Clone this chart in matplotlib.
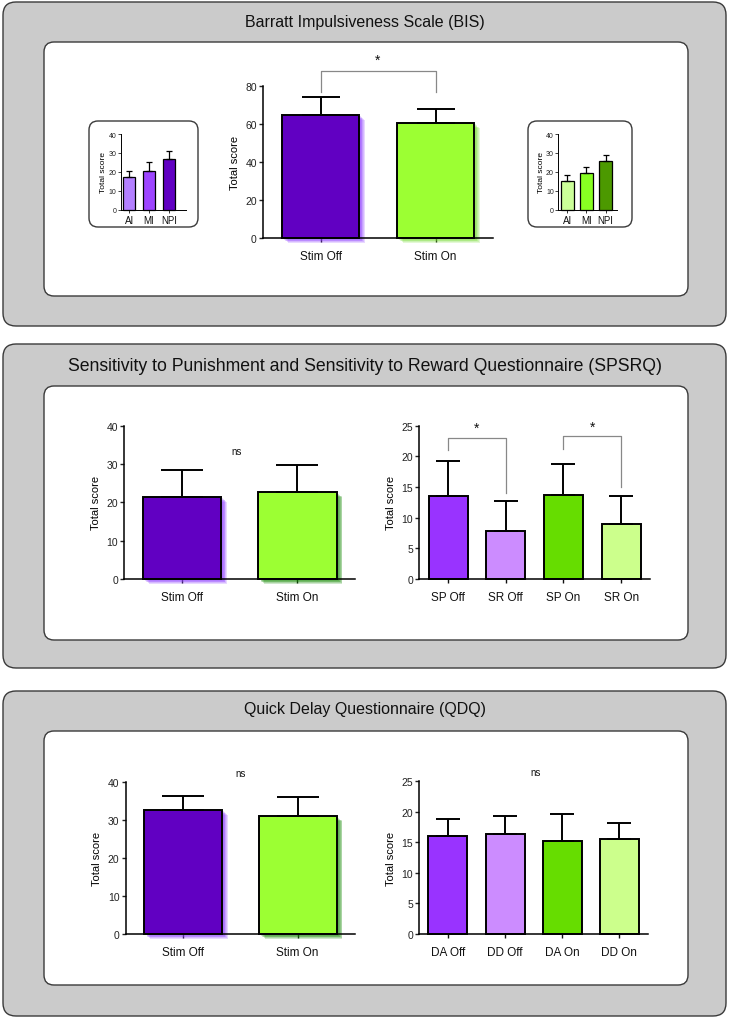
import matplotlib
matplotlib.use("Agg")
import matplotlib.pyplot as plt
import matplotlib.patheffects as pe
from matplotlib.patches import FancyBboxPatch

plt.rcParams['font.family'] = ['Liberation Sans', 'DejaVu Sans']

# ---- data ----
stim_labels = ["Stim Off", "Stim On"]
bis_means = [64.7, 60.4]
bis_errs = [9.5, 7.3]

bis_sub_labels = ["AI", "MI", "NPI"]
bis_off_means = [17.1, 20.6, 26.8]
bis_off_errs = [3.2, 4.8, 4.1]
bis_on_means = [15.4, 19.3, 25.6]
bis_on_errs = [3.0, 3.5, 3.5]

spsrq_means = [21.4, 22.6]
spsrq_errs = [7.1, 7.1]
spsrq_sub_labels = ["SP Off", "SR Off", "SP On", "SR On"]
spsrq_sub_means = [13.5, 7.9, 13.7, 9.0]
spsrq_sub_errs = [5.7, 4.9, 5.1, 4.5]

qdq_means = [32.6, 30.9]
qdq_errs = [3.6, 5.0]
qdq_sub_labels = ["DA Off", "DD Off", "DA On", "DD On"]
qdq_sub_means = [16.0, 16.4, 15.3, 15.5]
qdq_sub_errs = [2.8, 2.9, 4.3, 2.6]

titles = ["Barratt Impulsiveness Scale (BIS)",
          "Sensitivity to Punishment and Sensitivity to Reward Questionnaire (SPSRQ)",
          "Quick Delay Questionnaire (QDQ)"]

off_col, on_col = "#6100c2", "#9cff33"
purple4 = ["#9933ff", "#cc8cff", "#66dd00", "#ccff8c"]

W, H = 730, 1020
fig = plt.figure(figsize=(7.3, 10.2), dpi=100)

bg = fig.add_axes([0, 0, 1, 1])
bg.set_xlim(0, W)
bg.set_ylim(H, 0)
bg.axis('off')


def rbox(x0, y0, x1, y1, fc, r):
    bg.add_patch(FancyBboxPatch((x0, y0), x1 - x0, y1 - y0,
                                boxstyle=f"round,pad=0,rounding_size={r}",
                                fc=fc, ec="#3a3a3a", lw=1.0))


outer = [(3, 3, 726, 327), (3, 345, 726, 669), (3, 692, 726, 1017)]
inner = [(44, 43, 688, 297), (44, 387, 688, 641), (44, 732, 688, 986)]
title_y = [22, 367, 710]
title_size = [11.5, 12.7, 11.5]
for o, i, t, ty, ts in zip(outer, inner, titles, title_y, title_size):
    rbox(*o, "#cbcbcb", 13)
    rbox(*i, "white", 10)
    bg.text(365, ty, t, ha="center", va="center", fontsize=ts, color="#111")
rbox(89, 122, 198, 228, "white", 9)
rbox(528, 122, 632, 228, "white", 9)


def px_axes(x0, y0, x1, y1):
    return fig.add_axes([x0 / W, 1 - y1 / H, (x1 - x0) / W, (y1 - y0) / H])


def glow(color):
    offs = [(0.6, -0.4), (1.2, -0.9), (1.8, -1.4), (2.4, -1.9), (3.0, -2.4), (3.6, -2.9), (4.2, -3.4)]
    return [pe.SimplePatchShadow(offset=o, shadow_rgbFace=color, alpha=0.2) for o in offs] + [pe.Normal()]


def bar_panel(ax, labels, means, errs, colors, ymax, yticks, xlim, width,
              capsize, small=False, glows=None):
    x = list(range(len(labels)))
    lw = 0.9 if small else 1.4
    bars = ax.bar(x, means, width=width, color=colors, edgecolor="black",
                  linewidth=lw, zorder=2, clip_on=False)
    if glows:
        for b, g in zip(bars, glows):
            b.set_path_effects(glow(g))
    ax.errorbar(x, means, yerr=[[0] * len(errs), errs], fmt="none",
                ecolor="black", elinewidth=lw, capsize=capsize,
                capthick=lw, zorder=3, clip_on=False)
    ax.set_xlim(*xlim)
    ax.set_ylim(0, ymax)
    ax.set_yticks(yticks)
    ax.set_xticks(x)
    ax.set_xticklabels(labels)
    for s in ["top", "right"]:
        ax.spines[s].set_visible(False)
    for s in ["left", "bottom"]:
        ax.spines[s].set_linewidth(0.7 if small else 1.1)
    ax.patch.set_alpha(0)
    if small:
        ax.tick_params(axis="y", labelsize=5, length=2, width=0.6, pad=1, colors="#222")
        ax.tick_params(axis="x", labelsize=7, length=2, width=0.6, pad=1.5, colors="#111")
        ax.set_ylabel("Total score", fontsize=6, labelpad=1)
    else:
        ax.tick_params(axis="y", labelsize=7.5, length=3, width=1, pad=1.5, colors="#222")
        ax.tick_params(axis="x", labelsize=8.5, length=3, width=1, pad=6, colors="#111")
        ax.set_ylabel("Total score", fontsize=8, labelpad=4)


def bracket(ax, x0, x1, y, y0, y1, star_y):
    ax.plot([x0, x0, x1, x1], [y0, y, y, y1], color="#888888", lw=0.9,
            clip_on=False, zorder=4)
    ax.text((x0 + x1) / 2, star_y, "*", ha="center", va="center",
            fontsize=10, color="#111")


# ---- BIS ----
ax = px_axes(263, 87, 493, 239)
bar_panel(ax, stim_labels, bis_means, bis_errs, [off_col, on_col], 80,
          [0, 20, 40, 60, 80], (-0.5, 1.5), 0.67, 14,
          glows=["#8f3dff", "#77dd33"])
bracket(ax, 0, 1, 87.9, 77, 77, 94.0)

ax = px_axes(120.7, 135, 186, 210.7)
bar_panel(ax, bis_sub_labels, bis_off_means, bis_off_errs,
          ["#b380ff", "#9d45ff", "#6100c2"], 40, [0, 10, 20, 30, 40],
          (-0.43, 2.87), 0.62, 2.4, small=True)

ax = px_axes(558, 135, 617, 211)
bar_panel(ax, bis_sub_labels, bis_on_means, bis_on_errs,
          ["#ccff99", "#88ff22", "#4c9900"], 40, [0, 10, 20, 30, 40],
          (-0.49, 2.6), 0.7, 2.4, small=True)

# ---- SPSRQ ----
ax = px_axes(124.3, 426.7, 355, 580)
bar_panel(ax, stim_labels, spsrq_means, spsrq_errs, [off_col, on_col], 40,
          [0, 10, 20, 30, 40], (-0.5, 1.5), 0.68, 14.8,
          glows=["#8f3dff", "#138a00"])
ax.text(0.47, 33.3, "ns", ha="center", va="center", fontsize=7, color="#111")

ax = px_axes(419.3, 426.7, 650, 580)
bar_panel(ax, spsrq_sub_labels, spsrq_sub_means, spsrq_sub_errs, purple4, 25,
          [0, 5, 10, 15, 20, 25], (-0.5, 3.5), 0.68, 8.3)
bracket(ax, 0, 1, 22.95, 21.0, 14.1, 24.6)
bracket(ax, 2, 3, 23.3, 21.2, 15.0, 24.8)

# ---- QDQ ----
ax = px_axes(125.7, 782.7, 355, 935)
bar_panel(ax, stim_labels, qdq_means, qdq_errs, [off_col, on_col], 40,
          [0, 10, 20, 30, 40], (-0.5, 1.5), 0.68, 14.8,
          glows=["#8f3dff", "#138a00"])
ax.text(0.5, 42.4, "ns", ha="center", va="center", fontsize=7, color="#111")

ax = px_axes(419.3, 782.3, 648, 935)
bar_panel(ax, qdq_sub_labels, qdq_sub_means, qdq_sub_errs, purple4, 25,
          [0, 5, 10, 15, 20, 25], (-0.5, 3.5), 0.68, 8.3)
ax.text(1.535, 26.5, "ns", ha="center", va="center", fontsize=7, color="#111")

fig.savefig("out.png", dpi=100)
